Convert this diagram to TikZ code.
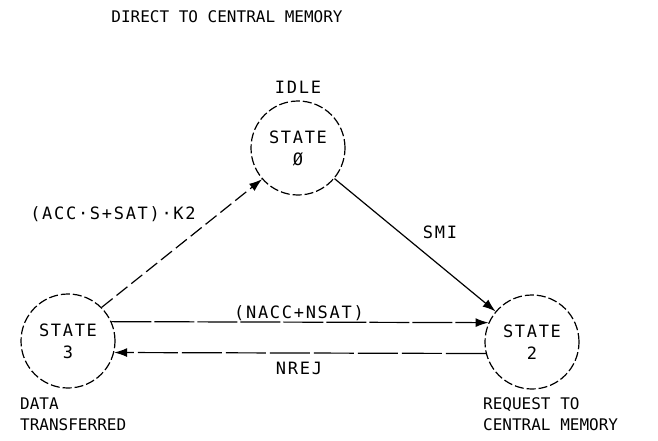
\documentclass[tikz,border=0pt]{standalone}
\usepackage{fontspec}
\newfontfamily\tw[LetterSpace=10]{DejaVu Sans Mono}
\newfontfamily\twplain{DejaVu Sans Mono}
\usepackage{tikz}
\usetikzlibrary{positioning,calc,arrows.meta}

\tikzset{
	statebox/.style={circle, draw=black, line width=1.2pt, dash pattern=on 9pt off 3pt, minimum size=94pt, inner sep=0pt, align=center, font=\tw\fontsize{17}{22}\selectfont},
	lbl/.style={inner sep=0pt, font=\tw\fontsize{17}{20}\selectfont},
	lblplain/.style={inner sep=0pt, align=left, font=\twplain\fontsize{16}{21}\selectfont},
	trans/.style={line width=1.2pt, -{Latex[length=13pt,width=9pt]}}
}

\begin{document}
\begin{tikzpicture}[x=1pt,y=-1pt]
			\useasboundingbox (0,0) rectangle (658,441);
			\node[lblplain] (title) at (227,17) {DIRECT TO CENTRAL MEMORY};
			\node[statebox] (s0) at (298,148) {STATE\\Ø};
			\node[statebox] (s3) at (68,341) {STATE\\3};
			\node[statebox] (s2) at (532,342) {STATE\\2};
			\node[lbl, above=7pt of s0] (idle) {IDLE};
			\node[lblplain, anchor=north west] (data) at (20,398) {DATA\\TRANSFERRED};
			\node[lblplain, anchor=north west] (req) at (483,397) {REQUEST TO\\CENTRAL MEMORY};
			\draw[trans, dash pattern=on 14pt off 5pt] (s3.45) -- (s0.221);
			\draw[trans] (s0.-40) -- (s2.140);
			\draw[trans, dash pattern=on 40pt off 3pt] (s3.24) -- (s2.156);
			\draw[trans, dash pattern=on 40pt off 4pt] (s2.194) -- (s3.-14);
			\node[lbl] (acc) at (113,214) {(ACC·S+SAT)·K2};
			\node[lbl] (smi) at (440,232) {SMI};
			\node[lbl] (nacc) at (299,313) {(NACC+NSAT)};
			\node[lbl] (nrej) at (299,368) {NREJ};
		\end{tikzpicture}
\end{document}
